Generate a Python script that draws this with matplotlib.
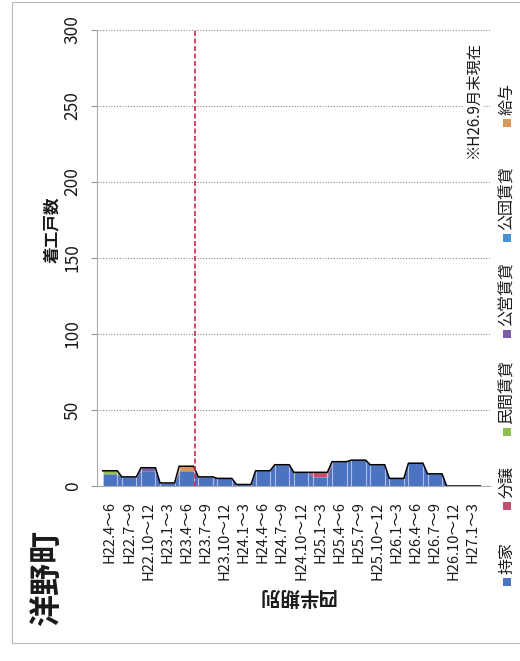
import numpy as np
import matplotlib
matplotlib.use("Agg")
import matplotlib.pyplot as plt
from matplotlib.patches import Rectangle
from matplotlib.lines import Line2D

plt.rcParams['font.family'] = ['Noto Sans CJK JP', 'DejaVu Sans']

# ---------------------- DATA ----------------------
quarters = ["H22.4～6", "H22.7～9", "H22.10～12", "H23.1～3", "H23.4～6", "H23.7～9",
            "H23.10～12", "H24.1～3", "H24.4～6", "H24.7～9", "H24.10～12", "H25.1～3",
            "H25.4～6", "H25.7～9", "H25.10～12", "H26.1～3", "H26.4～6", "H26.7～9",
            "H26.10～12", "H27.1～3"]
mochiie = [8, 6, 10, 2, 10, 6, 5, 1, 10, 14, 9, 6, 16, 17, 14, 5, 15, 8, 0, 0]
bunjo = [0, 0, 0, 0, 0, 0, 0, 0, 0, 0, 0, 3, 0, 0, 0, 0, 0, 0, 0, 0]
minkan = [2, 0, 0, 0, 0, 0, 0, 0, 0, 0, 0, 0, 0, 0, 0, 0, 0, 0, 0, 0]
koei = [0, 0, 2, 0, 0, 0, 0, 0, 0, 0, 0, 0, 0, 0, 0, 0, 0, 0, 0, 0]
kodan = [0, 0, 0, 0, 0, 0, 0, 0, 0, 0, 0, 0, 0, 0, 0, 0, 0, 0, 0, 0]
kyuyo = [0, 0, 0, 0, 3, 0, 0, 0, 0, 0, 0, 0, 0, 0, 0, 0, 0, 0, 0, 0]

series_names = ["持家", "分譲", "民間賃貸", "公営賃貸", "公団賃貸", "給与"]
series_vals = [mochiie, bunjo, minkan, koei, kodan, kyuyo]
colors = ["#4C72C2", "#C4506E", "#8EBF52", "#7D5EA6", "#4A8FD0", "#D9955A"]

y_ticks = [0, 50, 100, 150, 200, 250, 300]
marker_x = 4.45  # red dashed line (between H23.4～6 and H23.7～9)
note = "※H26.9月末現在"
# ------------------------------------------------------

W, H = 520, 661
fig = plt.figure(figsize=(W / 100, H / 100), dpi=100)
fig.patch.set_facecolor("white")
TXT = "#1a1a1a"


def fx(px):
    return px / W


def fy(py):
    return (H - py) / H


# outer frame
for xs_, ys_ in [((12, 12), (2, 643)), ((12, 520), (643, 643)), ((12, 520), (2, 2))]:
    fig.add_artist(Line2D([fx(v) for v in xs_], [fy(v) for v in ys_],
                          color="#bbbbbb", lw=0.8))

ax = fig.add_axes([fx(97), fy(486), fx(490) - fx(97), fy(30) - fy(486)])

x = np.arange(len(quarters))
half = 0.38
xs = np.column_stack([x - half, x + half]).ravel()

bottom = np.zeros(len(quarters))
for name, vals, c in zip(series_names, series_vals, colors):
    v = np.array(vals, dtype=float)
    ax.fill_between(xs, np.repeat(bottom, 2), np.repeat(bottom + v, 2),
                    color=c, lw=0, zorder=2)
    bottom = bottom + v

total = bottom
ax.vlines(xs, 0, np.repeat(total, 2), color="white", lw=0.8, alpha=0.55, zorder=3)
ax.plot(xs, np.repeat(total, 2), color="black", lw=1.1, zorder=4)

ax.axvline(marker_x, color="#C8284A", lw=1.2, linestyle=(0, (3, 1.5)), zorder=5)

ax.set_xlim(-0.68, 19.89)
ax.set_ylim(0, 300)
ax.set_yticks(y_ticks)
ax.set_yticklabels([str(t) for t in y_ticks], rotation=90, va="center", fontsize=12.5,
                   color=TXT)
ax.set_xticks(x)
ax.set_xticklabels(quarters, rotation=90, fontsize=10.5, color=TXT)
ax.tick_params(axis="x", length=0, pad=11)
ax.tick_params(axis="y", length=4, color="#999999", pad=7)

ax.grid(axis="y", color="#8a8a8a", lw=0.8, linestyle=(0, (1, 1.5)), zorder=1)
for s in ["top", "right"]:
    ax.spines[s].set_visible(False)
ax.spines["left"].set_color("#aaaaaa")
ax.spines["bottom"].set_color("#aaaaaa")

# texts (whole sheet is rotated)
fig.text(fx(47), fy(578), "洋野町", rotation=90, fontsize=23, fontweight="bold",
         ha="center", va="center", color=TXT)
fig.text(fx(52), fy(230), "着工戸数", rotation=90, fontsize=12, fontweight="bold",
         ha="center", va="center", color=TXT)
fig.text(fx(296), fy(596), "四半期別", rotation=180, fontsize=14, fontweight="bold",
         ha="center", va="center", color=TXT)
fig.text(fx(473), fy(100), note, rotation=90, fontsize=11, ha="center", va="center",
         color=TXT, bbox=dict(facecolor="white", edgecolor="none", pad=1))

# legend drawn by hand, rotated
legend_sq = [582, 506, 432, 334, 238, 123]
for name, c, sy in zip(series_names, colors, legend_sq):
    fig.add_artist(Rectangle((fx(503), fy(sy + 4)), fx(8), fy(sy - 4) - fy(sy + 4),
                             transform=fig.transFigure, facecolor=c, edgecolor="none"))
    fig.text(fx(507), fy(sy - 8), name, rotation=90, fontsize=11.5, ha="center",
             va="bottom", color=TXT)

fig.savefig("out.png", dpi=100)
